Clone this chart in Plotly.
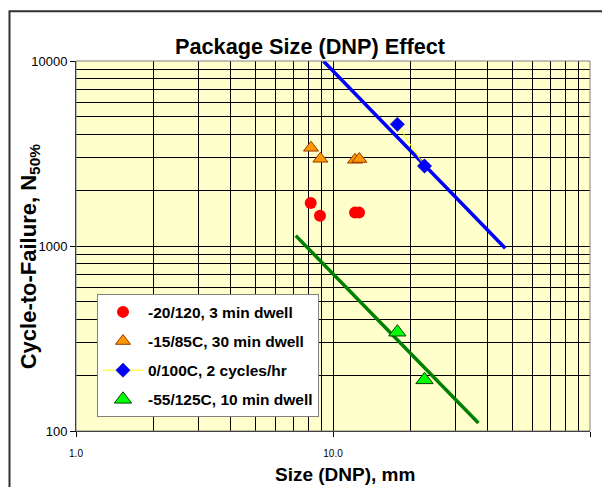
import plotly.graph_objects as go

# Test results: DNP size (mm) vs. cycles to failure (N50%)
red_x = [8.19, 8.90, 12.18, 12.63]
red_y = [1708, 1459, 1515, 1515]

orange_x = [8.21, 8.93, 12.18, 12.66]
orange_y = [3395, 2960, 2924, 2953]

blue_x = [17.8, 22.7]
blue_y = [4548, 2706]

green_x = [17.8, 22.7]
green_y = [342, 189]

# Power-law fit lines (end points)
blue_fit_x = [9.17, 46.8]
blue_fit_y = [10000, 972]
green_fit_x = [7.16, 36.8]
green_fit_y = [1138, 110.5]

names = ["-20/120, 3 min dwell", "-15/85C, 30 min dwell",
         "0/100C, 2 cycles/hr", "-55/125C, 10 min dwell"]

x_ticks = [1, 10, 100]
x_tick_text = ["1.0", "10.0", "100.0"]
y_ticks = [100, 1000, 10000]
y_tick_text = ["100", "1000", "10000"]

FONT = "Arial, Liberation Sans, sans-serif"

fig = go.Figure()

fig.add_trace(go.Scatter(x=blue_fit_x, y=blue_fit_y, mode="lines",
                         line=dict(color="#0000FF", width=3.5),
                         showlegend=False, hoverinfo="skip"))
fig.add_trace(go.Scatter(x=green_fit_x, y=green_fit_y, mode="lines",
                         line=dict(color="#008000", width=3.5),
                         showlegend=False, hoverinfo="skip"))

fig.add_trace(go.Scatter(x=red_x, y=red_y, mode="markers", name=names[0],
                         legendgroup="a",
                         marker=dict(symbol="circle", size=12, color="#FF0000",
                                     line=dict(width=0))))
fig.add_trace(go.Scatter(x=orange_x, y=orange_y, mode="markers", name=names[1],
                         legendgroup="b",
                         marker=dict(symbol="triangle-up", size=13, color="#FF9900",
                                     line=dict(color="#993300", width=1))))
fig.add_trace(go.Scatter(x=blue_x, y=blue_y, mode="lines+markers", name=names[2],
                         legendgroup="c",
                         line=dict(color="#FFFF00", width=1),
                         marker=dict(symbol="diamond", size=11, color="#0000FF",
                                     line=dict(color="#000080", width=0.5))))
fig.add_trace(go.Scatter(x=green_x, y=green_y, mode="markers", name=names[3],
                         legendgroup="d",
                         marker=dict(symbol="triangle-up", size=15, color="#00FF00",
                                     line=dict(color="#004000", width=1))))

axis_common = dict(
    type="log",
    showgrid=True, gridcolor="#000000", gridwidth=1,
    showline=True, linecolor="#000000", linewidth=1,
    ticks="outside", ticklen=5, tickcolor="#000000",
    zeroline=False,
    minor=dict(dtick="D1", showgrid=True, gridcolor="#000000", gridwidth=1,
               ticks=""),
)

fig.update_xaxes(range=[0, 2], tickvals=x_ticks, ticktext=x_tick_text,
                 tickfont=dict(family=FONT, size=10, color="#000000"),
                 ticklabelstandoff=8, **axis_common)
fig.update_yaxes(range=[2, 4], tickvals=y_ticks, ticktext=y_tick_text,
                 tickfont=dict(family=FONT, size=13, color="#000000"),
                 **axis_common)

fig.update_layout(
    width=602, height=487,
    margin=dict(l=76, r=12, t=61, b=56),
    paper_bgcolor="#FFFFFF",
    plot_bgcolor="#FFFFCC",
    font=dict(family=FONT, color="#000000"),
    title=dict(text="<b>Package Size (DNP) Effect</b>",
               font=dict(family=FONT, size=21.7, color="#000000"),
               x=310 / 602, xanchor="center", xref="container",
               y=1 - 46 / 487, yanchor="middle", yref="container"),
    legend=dict(x=(97 - 76) / 514, y=(430.7 - 294) / 370,
                xanchor="left", yanchor="top",
                bgcolor="#FFFFFF", bordercolor="#808080", borderwidth=1,
                font=dict(family=FONT, size=15.5, color="#000000", weight="bold"),
                tracegroupgap=6, itemwidth=40),
    showlegend=True,
    annotations=[
        dict(text="<b>Size (DNP), mm</b>", xref="paper", yref="paper",
             x=(345 - 76) / 514, y=(430.7 - 474) / 370,
             xanchor="center", yanchor="middle", showarrow=False,
             font=dict(family=FONT, size=19, color="#000000")),
        dict(text="<b>Cycle-to-Failure, N<sub>50%</sub></b>", xref="paper", yref="paper",
             x=(30 - 76) / 514, y=(430.7 - 257) / 370, textangle=-90,
             xanchor="center", yanchor="middle", showarrow=False,
             font=dict(family=FONT, size=22, color="#000000")),
    ],
    shapes=[
        # chart frame
        dict(type="rect", xref="paper", yref="paper",
             x0=(9.5 - 76) / 514, x1=1.2, y0=-0.2, y1=(430.7 - 11) / 370,
             line=dict(color="#303030", width=2), fillcolor="rgba(0,0,0,0)",
             layer="below"),
        # plot area outline
        dict(type="rect", xref="paper", yref="paper", x0=0, x1=1, y0=0, y1=1,
             line=dict(color="#808080", width=1), fillcolor="rgba(0,0,0,0)",
             layer="above"),
    ],
)

fig.write_html("out.html")
